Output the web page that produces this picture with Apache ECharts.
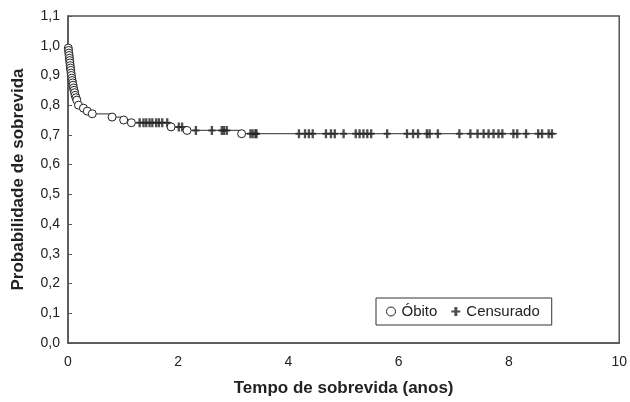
<!DOCTYPE html>
<html>
<head>
<meta charset="utf-8">
<script src="https://cdn.jsdelivr.net/npm/echarts@6/dist/echarts.min.js"></script>
<style>
  html, body { margin: 0; padding: 0; background: #fff; }
  #chart { width: 630px; height: 402px; }
</style>
</head>
<body>
<div id="chart"></div>
<script>
// óbitos: tempo (anos) e sobrevida após o evento
const deathTimes = [0.005, 0.01, 0.015, 0.02, 0.025, 0.03, 0.035, 0.04, 0.045, 0.05, 0.055, 0.06,
  0.068, 0.075, 0.083, 0.09, 0.10, 0.11, 0.12, 0.13, 0.145, 0.16, 0.19, 0.28, 0.35, 0.44,
  0.80, 1.01, 1.15, 1.87, 2.16, 3.15];
const deathSurv = [0.992, 0.984, 0.975, 0.967, 0.958, 0.950, 0.942, 0.933, 0.925, 0.917, 0.908, 0.900,
  0.891, 0.883, 0.875, 0.867, 0.858, 0.850, 0.842, 0.833, 0.825, 0.817, 0.800, 0.790, 0.780, 0.771,
  0.760, 0.750, 0.741, 0.727, 0.715, 0.704];
// censurados
const censorTimes = [1.30, 1.37, 1.42, 1.48, 1.53, 1.60, 1.65, 1.71, 1.80, 2.01, 2.07, 2.32, 2.61,
  2.79, 2.83, 2.88, 3.31, 3.35, 3.40, 3.42, 4.19, 4.30, 4.37, 4.44, 4.68, 4.77, 4.84, 5.00, 5.22,
  5.29, 5.36, 5.43, 5.50, 5.79, 6.15, 6.26, 6.35, 6.51, 6.56, 6.71, 7.10, 7.30, 7.43, 7.54, 7.63,
  7.72, 7.81, 7.88, 8.08, 8.15, 8.31, 8.53, 8.60, 8.72, 8.78];
const lastTime = 8.87;
const xTicks = [0, 2, 4, 6, 8, 10];

function survAt(t) {
  let s = 1;
  deathTimes.forEach((d, i) => { if (d <= t) s = deathSurv[i]; });
  return s;
}

const stepData = [[0, 1]];
deathTimes.forEach((t, i) => stepData.push([t, deathSurv[i]]));
stepData.push([lastTime, deathSurv[deathSurv.length - 1]]);

const deathData = deathTimes.map((t, i) => [t, deathSurv[i]]);
const censorData = censorTimes.map(t => [t, survAt(t)]);

const plusPath = 'path://M3,0h3v3.5h3v2h-3v3.5h-3v-3.5h-3v-2h3z';
const font = 'Liberation Sans, Arial, sans-serif';

const chart = echarts.init(document.getElementById('chart'), null, { renderer: 'canvas' });
chart.setOption({
  backgroundColor: '#fff',
  animation: false,
  textStyle: { fontFamily: font },
  grid: {
    left: 68, right: 7, top: 16, bottom: 55,
    show: true, borderColor: '#555', borderWidth: 1.5
  },
  legend: {
    left: 376, top: 298,
    padding: [6, 12, 6, 10],
    borderColor: '#333', borderWidth: 1,
    itemGap: 14, itemWidth: 11, itemHeight: 9,
    textStyle: { fontSize: 15, color: '#222', fontFamily: font },
    data: [
      { name: 'Óbito', icon: 'circle', itemStyle: { color: '#fff', borderColor: '#222', borderWidth: 1 } },
      { name: 'Censurado', icon: plusPath }
    ]
  },
  xAxis: {
    type: 'value', min: 0, max: 10, interval: 2,
    name: 'Tempo de sobrevida (anos)', nameLocation: 'middle', nameGap: 37,
    nameTextStyle: { fontSize: 17, fontWeight: 'bold', color: '#222', fontFamily: font },
    axisLine: { show: true, lineStyle: { color: '#555', width: 1.5 } },
    axisTick: { show: false },
    splitLine: { show: false },
    axisLabel: {
      fontSize: 14, color: '#222', margin: 12,
      formatter: v => xTicks.includes(v) ? String(v) : ''
    }
  },
  yAxis: {
    type: 'value', min: 0, max: 1.1, interval: 0.1,
    name: 'Probabilidade de sobrevida', nameLocation: 'middle', nameGap: 41,
    nameTextStyle: { fontSize: 17, fontWeight: 'bold', color: '#222', fontFamily: font },
    axisLine: { show: true, lineStyle: { color: '#555', width: 1.5 } },
    axisTick: { show: true, inside: true, length: 4, lineStyle: { color: '#555' } },
    splitLine: { show: false },
    axisLabel: {
      fontSize: 14, color: '#222', margin: 8,
      formatter: v => v.toFixed(1).replace('.', ',')
    }
  },
  series: [
    {
      name: 'curva', type: 'line', step: 'end', data: stepData,
      showSymbol: false, symbol: 'none',
      lineStyle: { color: '#555', width: 1.2 }, z: 1
    },
    {
      name: 'Óbito', type: 'scatter', data: deathData,
      symbol: 'circle', symbolSize: 8,
      itemStyle: { color: '#fff', borderColor: '#222', borderWidth: 1, opacity: 1 }, z: 3
    },
    {
      name: 'Censurado', type: 'scatter', data: censorData,
      symbol: plusPath, symbolSize: [7, 9],
      itemStyle: { color: '#222' }, z: 2
    }
  ]
});
</script>
</body>
</html>
